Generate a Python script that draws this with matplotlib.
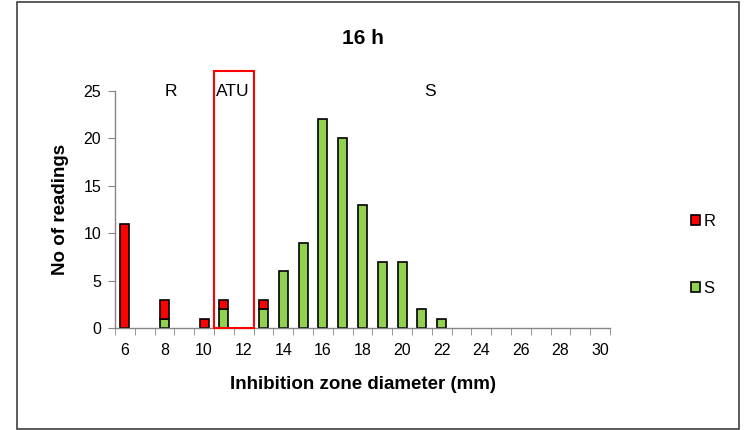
import numpy as np
import matplotlib
matplotlib.use('Agg')
import matplotlib.pyplot as plt
from matplotlib.patches import Rectangle, Patch

plt.rcParams['font.family'] = ['Liberation Sans', 'DejaVu Sans']

# inhibition zone diameters (mm), one category each
diameters = list(range(6, 31))
# number of readings per diameter
s_counts = [0, 0, 1, 0, 0, 2, 0, 2, 6, 9, 22, 20, 13, 7, 7, 2, 1,
            0, 0, 0, 0, 0, 0, 0, 0]
r_counts = [11, 0, 2, 0, 1, 1, 0, 1, 0, 0, 0, 0, 0, 0, 0, 0, 0,
            0, 0, 0, 0, 0, 0, 0, 0]
zone_labels = ['R', 'ATU', 'S']
zone_pos = [8.3, 11.45, 21.4]   # in mm, where the zone labels sit

RED = '#FF0000'
GREEN = '#92D050'
AXIS_GREY = '#868686'

fig = plt.figure(figsize=(7.46, 4.30), dpi=100)
ax = fig.add_axes([115 / 746, 1 - 328 / 430, 495 / 746, 237 / 430])

x = np.arange(len(diameters))
s = np.array(s_counts)
r = np.array(r_counts)
ms = s > 0
mr = r > 0
ax.bar(x[ms], s[ms], width=0.45, color=GREEN, edgecolor='black', linewidth=1.2)
ax.bar(x[mr], r[mr], width=0.45, bottom=s[mr], color=RED, edgecolor='black',
       linewidth=1.2)

ax.set_xlim(-0.5, len(diameters) - 0.5)
ax.set_ylim(0, 25)
ax.set_yticks(range(0, 26, 5))

# labels on every other category, tick marks on category boundaries
label_idx = [i for i, d in enumerate(diameters) if d % 2 == 0]
ax.set_xticks(label_idx)
ax.set_xticklabels([str(diameters[i]) for i in label_idx])
ax.set_xticks(np.arange(-0.5, len(diameters)), minor=True)
ax.tick_params(axis='x', which='major', length=0, labelsize=11.5, pad=11)
ax.tick_params(axis='x', which='minor', length=5, color=AXIS_GREY, direction='out')
ax.tick_params(axis='y', length=5, color=AXIS_GREY, labelsize=11.5, pad=5)

for sp in ['top', 'right']:
    ax.spines[sp].set_visible(False)
for sp in ['left', 'bottom']:
    ax.spines[sp].set_color(AXIS_GREY)
    ax.spines[sp].set_linewidth(1.0)

ax.set_xlabel('Inhibition zone diameter (mm)', fontsize=13.5, fontweight='bold', labelpad=13)
ax.set_ylabel('No of readings', fontsize=13.5, fontweight='bold', labelpad=10)
ax.set_title('16 h', fontsize=15, fontweight='bold', pad=34)

# zone labels and ATU box
for lab, d in zip(zone_labels, zone_pos):
    ax.text(d - diameters[0], 25, lab, ha='center', va='center', fontsize=12.5)
atu_lo, atu_hi = 10.5, 12.5
ax.add_patch(Rectangle((atu_lo - diameters[0], 0), atu_hi - atu_lo, 27.1,
                       fill=False, edgecolor=RED, linewidth=1.5, clip_on=False, zorder=5))

handles = [Patch(facecolor=RED, edgecolor='black', linewidth=1.2, label='R'),
           Patch(facecolor=GREEN, edgecolor='black', linewidth=1.2, label='S')]
ax.legend(handles=handles, loc='center left', bbox_to_anchor=(676 / 746, 1 - 255 / 430),
          bbox_transform=fig.transFigure, frameon=False, fontsize=12,
          handlelength=0.55, handleheight=0.55, handletextpad=0.2, labelspacing=3.1)

fig.add_artist(Rectangle((17 / 746, 1 / 430), 722 / 746, 427 / 430,
                         transform=fig.transFigure, fill=False,
                         edgecolor='#404040', linewidth=1.2))

fig.savefig('out.png', dpi=100)
